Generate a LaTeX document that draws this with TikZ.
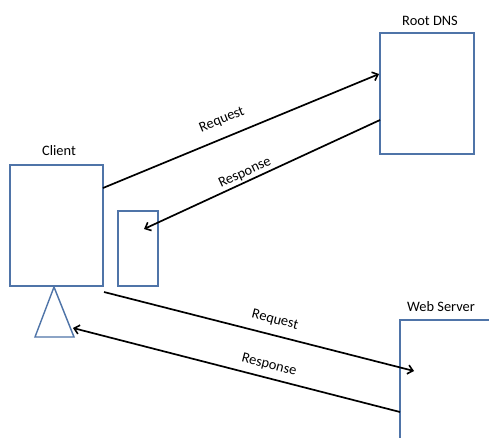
\documentclass[tikz,border=0pt]{standalone}
\usepackage{fontspec}
\setmainfont{Carlito}
\usetikzlibrary{arrows.meta}
\definecolor{boxline}{HTML}{4F74A8}
\tikzset{
  unit/.style={x=1pt,y=-1pt},
  box/.style={draw=boxline,line width=1.4pt,fill=none,inner sep=0pt},
  conn/.style={line width=1.7pt,black},
  arr/.style={conn,-{Straight Barb[length=5pt,width=9pt,line width=1.6pt]}},
  title/.style={font=\fontsize{14.4}{17}\selectfont,inner sep=0pt},
  lab/.style={font=\fontsize{14.4}{17}\selectfont,inner sep=0pt}
}
\begin{document}
\begin{tikzpicture}[unit]
  \clip (0,0) rectangle (489,437);
  \fill[white] (0,0) rectangle (489,437);

  % hosts
  \node[box,minimum width=93pt,minimum height=121pt] (client) at (56.5,225.5) {};
  \node[box,minimum width=40pt,minimum height=75pt] (cache) at (138,248.5) {};
  \node[box,minimum width=94pt,minimum height=121pt] (dns) at (427,93.5) {};
  \node[box,minimum width=110pt,minimum height=140pt] (web) at (455,390) {};
  \draw[boxline,line width=1.4pt,line join=miter] (54,287) -- (74,337) -- (35,337) -- cycle;

  % titles
  \node[title] (tclient) at (59,151) {Client};
  \node[title] (tdns) at (430,21) {Root DNS};
  \node[title] (tweb) at (441,307) {Web Server};

  % connector end points on the host borders
  \coordinate (c1) at (103,188);
  \coordinate (d1) at (379,74);
  \coordinate (d2) at (380,120);
  \coordinate (k1) at (144,229);
  \coordinate (c2) at (104,292);
  \coordinate (w1) at (414,371);
  \coordinate (w2) at (400,412);
  \coordinate (t1) at (73,328);

  % messages
  \draw[arr] (c1) -- (d1);
  \draw[arr] (d2) -- (k1);
  \draw[arr] (c2) -- (w1);
  \draw[arr] (w2) -- (t1);

  % message labels
  \node[lab,rotate=22.4] (l1) at (222,120) {Request};
  \node[lab,rotate=24.8] (l2) at (245,173) {Response};
  \node[lab,rotate=-14.3] (l3) at (275,320) {Request};
  \node[lab,rotate=-14.4] (l4) at (269,365) {Response};
\end{tikzpicture}
\end{document}
